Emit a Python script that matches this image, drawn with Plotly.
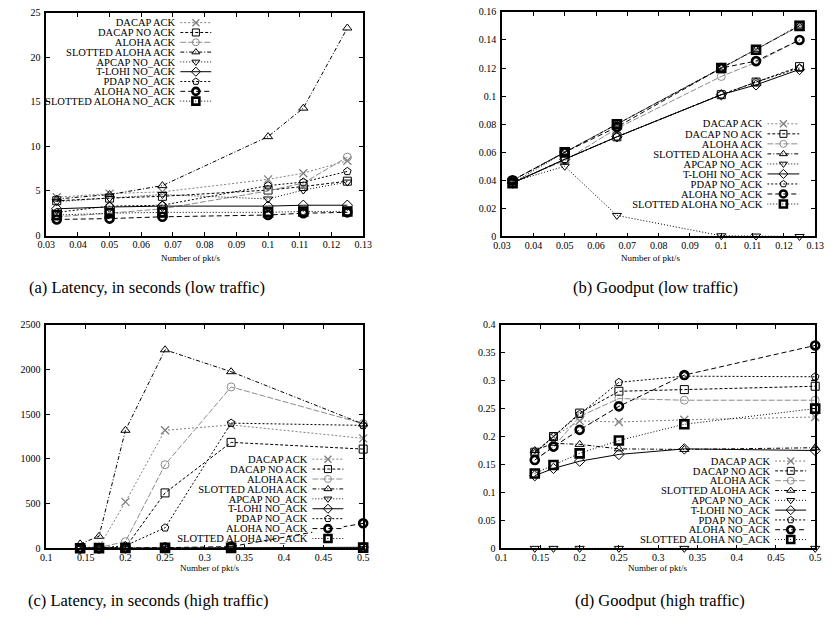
import plotly.graph_objects as go

W, H = 833, 624
FONT = "Liberation Serif"

names = ["DACAP ACK", "DACAP NO ACK", "ALOHA ACK", "SLOTTED ALOHA ACK", "APCAP NO_ACK",
         "T-LOHI NO_ACK", "PDAP NO_ACK", "ALOHA NO_ACK", "SLOTTED ALOHA NO_ACK"]

# offered load (pkt/s)
x_low = [1 / 30, 0.05, 1 / 15, 0.1, 1 / 9, 0.125]
x_high = [1 / 7, 1 / 6, 0.2, 0.25, 1 / 3, 0.5]

# rows follow the order of `names`
lat_low = [
    [4.3, 4.7, 4.9, 6.3, 7.0, 8.4],
    [3.9, 4.2, 4.4, 5.1, 5.5, 6.1],
    [2.1, 2.5, 3.0, 5.0, 5.9, 8.8],
    [4.1, 4.6, 5.6, 11.1, 14.3, 23.3],
    [3.8, 4.2, 4.6, 4.1, 5.1, 6.0],
    [3.0, 3.2, 3.3, 3.3, 3.4, 3.4],
    [2.6, 3.3, 3.4, 5.6, 6.0, 7.2],
    [1.8, 1.9, 2.1, 2.3, 2.5, 2.6],
    [2.3, 2.5, 2.6, 2.6, 2.7, 2.7],
]
gp_low = [
    [0.040, 0.060, 0.080, 0.120, 0.133, 0.151],
    [0.038, 0.055, 0.071, 0.101, 0.110, 0.121],
    [0.039, 0.054, 0.077, 0.114, 0.124, 0.140],
    [0.040, 0.060, 0.080, 0.120, 0.133, 0.150],
    [0.039, 0.050, 0.015, 0.0005, 0.0003, 0.0],
    [0.038, 0.055, 0.071, 0.101, 0.108, 0.119],
    [0.038, 0.055, 0.071, 0.101, 0.110, 0.120],
    [0.040, 0.060, 0.078, 0.120, 0.125, 0.140],
    [0.038, 0.060, 0.080, 0.120, 0.133, 0.150],
]
lat_high = [
    [10, 15, 520, 1320, 1380, 1230],
    [5, 8, 10, 620, 1185, 1110],
    [5, 10, 75, 935, 1805, 1395],
    [50, 135, 1320, 2220, 1975, 1390],
    [0, 0, 0, 0, 0, 0],
    [1, 2, 3, 4, 8, 12],
    [3, 5, 30, 230, 1400, 1375],
    [2, 3, 5, 8, 20, 280],
    [2, 3, 4, 5, 6, 8],
]
gp_high = [
    [0.170, 0.200, 0.228, 0.226, 0.230, 0.235],
    [0.172, 0.200, 0.242, 0.281, 0.284, 0.290],
    [0.158, 0.181, 0.236, 0.268, 0.265, 0.265],
    [0.175, 0.188, 0.186, 0.178, 0.177, 0.180],
    [0.0, 0.0, 0.0, 0.0, 0.0, 0.0],
    [0.130, 0.143, 0.156, 0.168, 0.178, 0.175],
    [0.170, 0.200, 0.240, 0.297, 0.308, 0.307],
    [0.158, 0.182, 0.212, 0.254, 0.310, 0.363],
    [0.134, 0.149, 0.170, 0.193, 0.222, 0.250],
]

# gnuplot-like line styles: (color, dash, symbol, marker outline width)
styles = [
    ("#808080", "2px,2px", "x-thin-open", 1.3),
    ("black", "3px,2px", "square-open", 1.0),
    ("#8c8c8c", "6px,2px", "circle-open", 1.0),
    ("black", "4px,2px,1px,2px", "triangle-up-open", 1.0),
    ("black", "1px,2px", "triangle-down-open", 1.0),
    ("black", "solid", "diamond-open", 1.0),
    ("black", "2px,2px", "pentagon-open", 1.0),
    ("black", "5px,3px", "circle-open", 2.6),
    ("black", "1px,2px", "square-open", 2.6),
]


def fx(p):
    return p / W


def fy(p):
    return 1 - p / H


panels = [
    dict(data=lat_low, xs=x_low, px=(38, 362), py=(7, 234), xr=[0.03, 0.13], xd=0.01,
         yr=[0, 25], yd=5, lx=(175, 207), ly=(12, 102),
         cap="(a) Latency, in seconds (low traffic)", cap_xy=(141, 287), xt=(185, 257)),
    dict(data=gp_low, xs=x_low, px=(504, 824), py=(6, 235), xr=[0.03, 0.13], xd=0.01,
         yr=[0, 0.16], yd=0.02, lx=(775, 808), ly=(115, 207),
         cap="(b) Goodput (low traffic)", cap_xy=(661, 287), xt=(656, 257)),
    dict(data=lat_high, xs=x_high, px=(38, 362), py=(325, 553), xr=[0.1, 0.5], xd=0.05,
         yr=[0, 2500], yd=500, lx=(310, 342), ly=(457, 548),
         cap="(c) Latency, in seconds (high traffic)", cap_xy=(143, 606), xt=(205, 573)),
    dict(data=gp_high, xs=x_high, px=(503, 824), py=(325, 553), xr=[0.1, 0.5], xd=0.05,
         yr=[0, 0.4], yd=0.05, lx=(783, 815), ly=(459, 549),
         cap="(d) Goodput (high traffic)", cap_xy=(665, 606), xt=(663, 573)),
]

axis_common = dict(showline=True, linecolor="black", linewidth=1.5, mirror="allticks",
                   ticks="inside", ticklen=4, tickwidth=1.3, tickcolor="black",
                   showgrid=False, zeroline=False,
                   tickfont=dict(family=FONT, size=10, color="black"))

fig = go.Figure()
layout = {}
annotations = []

for i, p in enumerate(panels):
    k = i + 1
    lk = i + 5
    xa, ya = f"x{k}", f"y{k}"
    lxa, lya = f"x{lk}", f"y{lk}"

    for name, row, (col, dash, sym, mlw) in zip(names, p["data"], styles):
        fig.add_trace(go.Scatter(
            x=p["xs"], y=row, xaxis=xa, yaxis=ya, mode="lines+markers", name=name,
            line=dict(color=col, width=1, dash=dash),
            marker=dict(symbol=sym, size=8, color=col, line=dict(width=mlw, color=col)),
            cliponaxis=False, showlegend=False))
        # legend key: text on the left, line sample with marker on the right
        fig.add_trace(go.Scatter(
            x=[0, 1], y=[name, name], xaxis=lxa, yaxis=lya, mode="lines",
            line=dict(color=col, width=1, dash=dash), showlegend=False, hoverinfo="skip"))
        fig.add_trace(go.Scatter(
            x=[0.5], y=[name], xaxis=lxa, yaxis=lya, mode="markers",
            marker=dict(symbol=sym, size=7, color=col, line=dict(width=mlw, color=col)),
            showlegend=False, hoverinfo="skip", cliponaxis=False))

    layout[f"xaxis{k}"] = dict(axis_common, domain=[fx(p["px"][0]), fx(p["px"][1])],
                               anchor=ya, range=p["xr"], dtick=p["xd"], tick0=0,
                               ticklabelstandoff=-1)
    layout[f"yaxis{k}"] = dict(axis_common, domain=[fy(p["py"][1]), fy(p["py"][0])],
                               anchor=xa, range=p["yr"], dtick=p["yd"], tick0=0,
                               ticklabelstandoff=2)
    layout[f"xaxis{lk}"] = dict(domain=[fx(p["lx"][0]), fx(p["lx"][1])], anchor=lya,
                                range=[0, 1], visible=False, fixedrange=True)
    layout[f"yaxis{lk}"] = dict(domain=[fy(p["ly"][1]), fy(p["ly"][0])], anchor=lxa,
                                type="category", categoryorder="array", categoryarray=names,
                                tickmode="array", tickvals=names, ticktext=names,
                                range=[len(names) - 0.5, -0.5], showgrid=False,
                                zeroline=False, showline=False, ticks="", ticklabelstandoff=4,
                                tickfont=dict(family=FONT, size=10.5, color="black"),
                                fixedrange=True)

    annotations.append(dict(text=p["cap"], xref="paper", yref="paper",
                            x=fx(p["cap_xy"][0]), y=fy(p["cap_xy"][1]),
                            xanchor="center", yanchor="middle", showarrow=False,
                            font=dict(family=FONT, size=16.5, color="black")))
    annotations.append(dict(text="Number of pkt/s", xref="paper", yref="paper",
                            x=fx(p["xt"][0]), y=fy(p["xt"][1]),
                            xanchor="center", yanchor="middle", showarrow=False,
                            font=dict(family=FONT, size=9, color="black")))

fig.update_layout(
    width=W, height=H, autosize=False,
    margin=dict(l=0, r=0, t=0, b=0),
    paper_bgcolor="white", plot_bgcolor="white",
    font=dict(family=FONT, color="black"),
    showlegend=False,
    annotations=annotations,
    **layout,
)

# drop the browser's default body margin so the figure sits at the window origin
fig.write_html("out.html", config={"displayModeBar": False},
               post_script="document.body.style.margin='0';")
